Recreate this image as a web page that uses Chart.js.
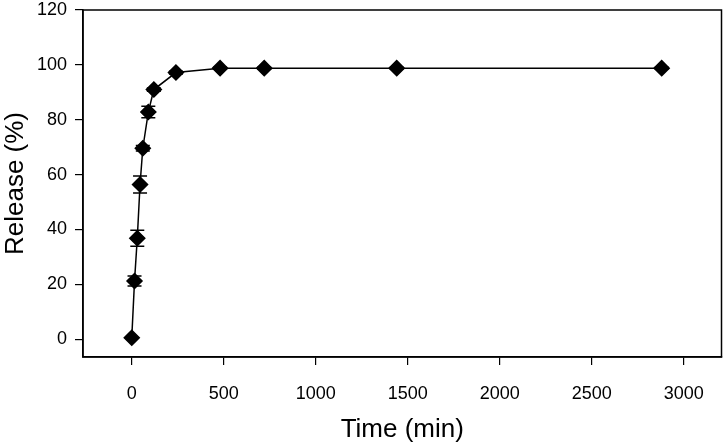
<!DOCTYPE html>
<html>
<head>
<meta charset="utf-8">
<script src="https://cdn.jsdelivr.net/npm/chart.js@4"></script>
<style>
  html, body { margin: 0; padding: 0; background: #fff; }
  #wrap { width: 724px; height: 445px; }
</style>
</head>
<body>
<div id="wrap"><canvas id="release-chart"></canvas></div>
<script>
const timeMin = [0, 15, 30, 45, 60, 90, 120, 240, 480, 720, 1440, 2880];
const releasePct = [0.5, 21.2, 36.8, 56.4, 69.6, 82.8, 91.0, 97.2, 98.8, 98.8, 98.8, 98.8];
const releaseErr = [0, 1.8, 2.9, 3.1, 1.0, 2.1, 0.6, 0.5, 0.3, 0.3, 0.3, 0.3];
const xTicks = [0, 500, 1000, 1500, 2000, 2500, 3000];
const yTicks = [0, 20, 40, 60, 80, 100, 120];

const INK = "#000";
const FONT = "'Liberation Sans', Arial, sans-serif";

const points = timeMin.map((t, i) => ({ x: t, y: releasePct[i] }));

// vertical error bars with caps, drawn from the data arrays through the scales
const errorBars = {
  id: "errorBars",
  afterDatasetsDraw(chart) {
    const { ctx, scales } = chart;
    ctx.save();
    ctx.strokeStyle = INK;
    ctx.lineWidth = 1.5;
    timeMin.forEach((t, i) => {
      if (!releaseErr[i]) return;
      const px = scales.x.getPixelForValue(t);
      const top = scales.y.getPixelForValue(releasePct[i] + releaseErr[i]);
      const bot = scales.y.getPixelForValue(releasePct[i] - releaseErr[i]);
      ctx.beginPath();
      ctx.moveTo(px, top);
      ctx.lineTo(px, bot);
      ctx.moveTo(px - 7, top);
      ctx.lineTo(px + 7, top);
      ctx.moveTo(px - 7, bot);
      ctx.lineTo(px + 7, bot);
      ctx.stroke();
    });
    ctx.restore();
  },
};

// closed frame round the plot area
const frame = {
  id: "frame",
  afterDraw(chart) {
    const { ctx, chartArea: a } = chart;
    ctx.save();
    ctx.strokeStyle = INK;
    ctx.lineWidth = 1.5;
    ctx.strokeRect(a.left, a.top, a.right - a.left, a.bottom - a.top);
    ctx.restore();
  },
};

const keepTicks = (list) => (scale) => {
  scale.ticks = list.map((v) => ({ value: v }));
};

new Chart(document.getElementById("release-chart"), {
  type: "scatter",
  data: {
    datasets: [
      {
        label: "Release",
        data: points,
        showLine: true,
        borderColor: INK,
        borderWidth: 1.5,
        backgroundColor: INK,
        pointStyle: "rectRot",
        pointRadius: 7.5,
        pointHoverRadius: 7.5,
        pointBackgroundColor: INK,
        pointBorderColor: INK,
        tension: 0,
      },
    ],
  },
  options: {
    responsive: true,
    maintainAspectRatio: false,
    animation: false,
    layout: { autoPadding: false, padding: { top: 10, right: 2.5, left: 0, bottom: 0 } },
    plugins: {
      legend: { display: false },
      tooltip: { enabled: false },
    },
    scales: {
      x: {
        type: "linear",
        min: -265,
        max: 3205,
        afterBuildTicks: keepTicks(xTicks),
        afterFit: (scale) => {
          scale.height = 88;
          scale.paddingLeft = 0;
          scale.paddingRight = 0;
        },
        grid: { display: true, drawOnChartArea: false, tickLength: 8, color: INK, lineWidth: 1.2 },
        border: { display: true, color: INK, width: 1.5 },
        ticks: {
          color: INK,
          padding: 18,
          maxRotation: 0,
          font: { family: FONT, size: 18 },
          callback: (v) => String(v),
        },
        title: {
          display: true,
          text: "Time (min)",
          color: INK,
          padding: { top: 6, bottom: 0 },
          font: { family: FONT, size: 26 },
        },
      },
      y: {
        type: "linear",
        min: -6.5,
        max: 120,
        afterBuildTicks: keepTicks(yTicks),
        afterFit: (scale) => {
          scale.width = 83;
          scale.paddingTop = 0;
          scale.paddingBottom = 0;
        },
        grid: { display: true, drawOnChartArea: false, tickLength: 8, color: INK, lineWidth: 1.2 },
        border: { display: true, color: INK, width: 1.5 },
        ticks: {
          color: INK,
          padding: 8,
          font: { family: FONT, size: 18 },
          callback: (v) => String(v),
        },
        title: {
          display: true,
          text: "Release (%)",
          color: INK,
          padding: { top: 0, bottom: 0 },
          font: { family: FONT, size: 26 },
        },
      },
    },
  },
  plugins: [errorBars, frame],
});
</script>
</body>
</html>
